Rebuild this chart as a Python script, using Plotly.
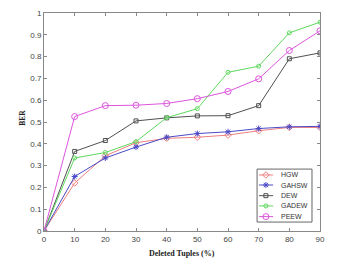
import plotly.graph_objects as go

x = [0, 10, 20, 30, 40, 50, 60, 70, 80, 90]
hgw = [0, 0.22, 0.345, 0.405, 0.425, 0.43, 0.44, 0.46, 0.475, 0.475]
gahsw = [0, 0.25, 0.335, 0.385, 0.43, 0.447, 0.455, 0.47, 0.478, 0.48]
dew = [0, 0.365, 0.415, 0.505, 0.519, 0.528, 0.529, 0.575, 0.79, 0.817]
gadew = [0, 0.335, 0.36, 0.41, 0.52, 0.561, 0.728, 0.756, 0.909, 0.958]
peew = [0, 0.525, 0.575, 0.577, 0.585, 0.607, 0.64, 0.698, 0.828, 0.918]

names = ["HGW", "GAHSW", "DEW", "GADEW", "PEEW"]
values = [hgw, gahsw, dew, gadew, peew]
colors = ["#ee7f7f", "#4a4ac8", "#505050", "#5ed85e", "#dd55dd"]
symbols = ["diamond-open", "asterisk-open", "square-open", "circle-open", "circle-open"]
sizes = [5, 5, 4, 4, 6]

fig = go.Figure()
for name, y, c, sym, sz in zip(names, values, colors, symbols, sizes):
    fig.add_trace(go.Scatter(x=x, y=y, name=name, mode="lines+markers", showlegend=False,
                             line=dict(color=c, width=1),
                             marker=dict(symbol=sym, size=sz, color=c, line=dict(color=c, width=1))))

# compact legend (MATLAB style)
leg_y = [0.257, 0.211, 0.162, 0.115, 0.066]
shapes = [dict(type="rect", xref="paper", yref="paper", x0=0.772, x1=0.971, y0=0.041, y1=0.284,
               line=dict(color="#666", width=1), fillcolor="white", layer="below")]
annotations = []
for name, c, sym, sz, ly in zip(names, colors, symbols, sizes, leg_y):
    shapes.append(dict(type="line", xref="paper", yref="paper", x0=0.779, x1=0.830, y0=ly, y1=ly,
                       line=dict(color=c, width=1), layer="below"))
    annotations.append(dict(text=name, xref="paper", yref="paper", x=0.851, y=ly, xanchor="left",
                            yanchor="middle", showarrow=False,
                            font=dict(family="Arial, Liberation Sans", size=7, color="#333")))
    fig.add_trace(go.Scatter(x=[0.804], y=[ly], xaxis="x2", yaxis="y2", mode="markers", showlegend=False,
                             hoverinfo="skip",
                             marker=dict(symbol=sym, size=sz, color=c, line=dict(color=c, width=1))))

annotations.append(dict(text="<b>Deleted Tuples (%)</b>", xref="paper", yref="paper", x=0.5, y=-0.072,
                        xanchor="center", yanchor="top", showarrow=False,
                        font=dict(family="Liberation Serif, Times New Roman", size=8, color="#222")))
annotations.append(dict(text="<b>BER</b>", xref="paper", yref="paper", x=-0.079, y=0.52, textangle=-90,
                        xanchor="center", yanchor="middle", showarrow=False,
                        font=dict(family="Liberation Serif, Times New Roman", size=7.5, color="#222")))

axis_common = dict(showline=True, linecolor="#888", linewidth=1, mirror="ticks", automargin=False,
                   ticks="inside", ticklen=3, tickcolor="#888", showgrid=False, zeroline=False,
                   tickfont=dict(family="Arial, Liberation Sans", size=8, color="#444"))
fig.update_layout(
    xaxis=dict(range=[0, 90], tickvals=x, **axis_common),
    yaxis=dict(range=[0, 1], dtick=0.1, tickformat="~g", **axis_common),
    xaxis2=dict(range=[0, 1], overlaying="x", visible=False),
    yaxis2=dict(range=[0, 1], overlaying="y", visible=False),
    shapes=shapes, annotations=annotations,
    width=335, height=259, margin=dict(l=36, r=23, t=5, b=36),
    plot_bgcolor="white", paper_bgcolor="white", showlegend=False)
fig.write_html("out.html")
